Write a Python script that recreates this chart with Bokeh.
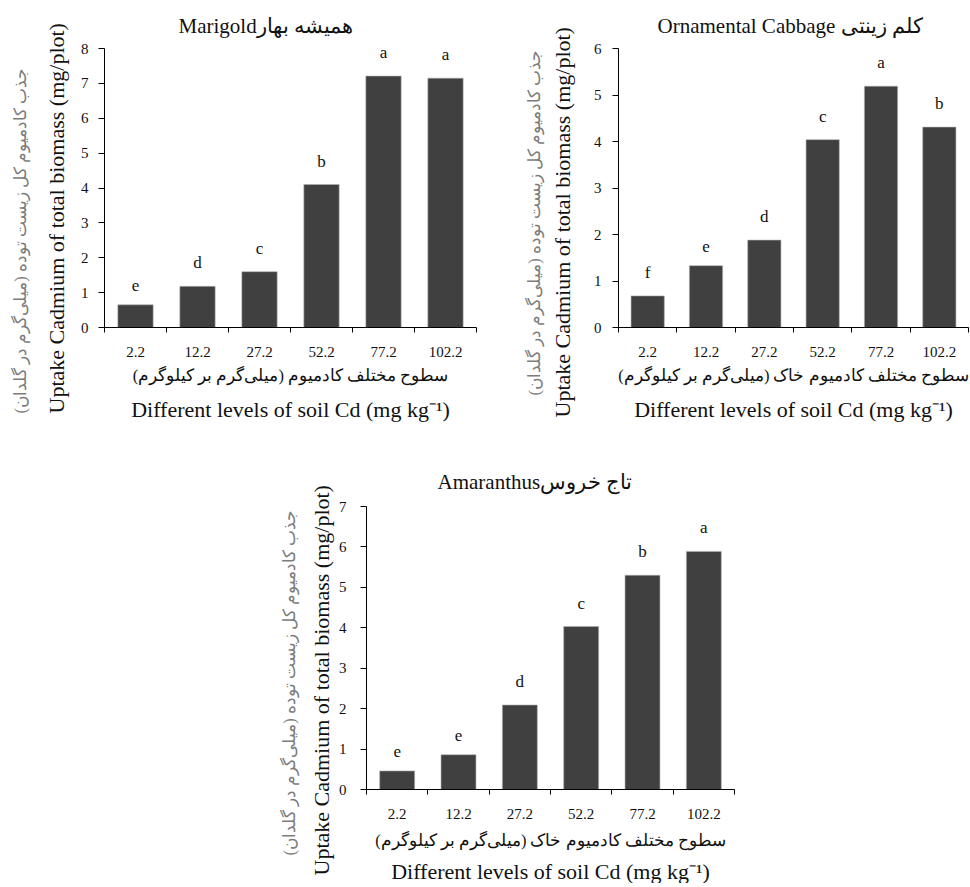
from bokeh.plotting import figure
from bokeh.models import Range1d, FixedTicker, Title, Spacer, ColumnDataSource
from bokeh.layouts import column, row
from bokeh.core.properties import value
from bokeh.embed import file_html
from bokeh.resources import INLINE

# ---------------- data ----------------
levels = ["2.2", "12.2", "27.2", "52.2", "77.2", "102.2"]

marigold_vals = [0.65, 1.18, 1.60, 4.10, 7.21, 7.15]
marigold_letters = ["e", "d", "c", "b", "a", "a"]

cabbage_vals = [0.68, 1.33, 1.88, 4.04, 5.19, 4.31]
cabbage_letters = ["f", "e", "d", "c", "a", "b"]

amaranthus_vals = [0.46, 0.86, 2.09, 4.03, 5.30, 5.89]
amaranthus_letters = ["e", "e", "d", "c", "b", "a"]

titles = ["Marigoldهمیشه بهار", "Ornamental Cabbage کلم زینتی", "Amaranthusتاج خروس"]
y_label_en = "Uptake Cadmium of total biomass (mg/plot)"
y_label_fa = "جذب کادمیوم کل زیست توده (میلی‌گرم در گلدان)"
x_label_en = "Different levels of soil Cd (mg kg⁻¹)"
x_label_fa_1 = "سطوح مختلف کادمیوم (میلی‌گرم بر کیلوگرم)"
x_label_fa_2 = "سطوح مختلف کادمیوم خاک (میلی‌گرم بر کیلوگرم)"
y_max = [8, 6, 7]

SERIF = "Liberation Serif"
BAR = "#404040"
INK = "#111111"


def ttl(text, size, color=INK, align="center", offset=0, standoff=4):
    return Title(text=text, align=align, offset=offset, standoff=standoff,
                 text_font=SERIF, text_font_size=size, text_font_style="normal",
                 text_color=color)


def make_chart(title, vals, letters, ymax, xfa, size, borders, cfg):
    width, height = size
    bl, br, bt, bb = borders
    p = figure(width=width, height=height, output_backend="svg",
               toolbar_location=None, min_border_left=bl, min_border_right=br,
               min_border_top=bt, min_border_bottom=bb,
               x_range=Range1d(0, len(levels)), y_range=Range1d(0, ymax))
    p.title = ttl(title, "21px", align="left", offset=cfg["title_off"],
                  standoff=cfg["title_so"])

    xs = [i + 0.5 for i in range(len(levels))]
    src = ColumnDataSource(dict(x=xs, top=vals, lab=letters))
    p.vbar(x="x", top="top", width=0.57, bottom=0, source=src,
           fill_color=BAR, line_color="#b0b0b0", line_width=0.6)
    p.text(x="x", y="top", text="lab", source=src, text_align="center",
           text_baseline="bottom", y_offset=-14, text_font=value(SERIF),
           text_font_size="17px", text_color=INK)

    p.xgrid.visible = False
    p.ygrid.visible = False
    p.outline_line_color = None

    xa = p.xaxis[0]
    xa.ticker = FixedTicker(ticks=xs, minor_ticks=list(range(len(levels) + 1)))
    xa.major_label_overrides = {x: l for x, l in zip(xs, levels)}
    xa.major_tick_line_color = None
    xa.minor_tick_line_color = "black"
    xa.minor_tick_in = 0
    xa.minor_tick_out = 5
    xa.axis_line_color = "black"
    xa.major_label_text_font = SERIF
    xa.major_label_text_font_size = "15px"
    xa.major_label_text_color = INK
    xa.major_label_standoff = 13

    ya = p.yaxis[0]
    ya.ticker = FixedTicker(ticks=list(range(ymax + 1)), minor_ticks=[])
    ya.major_tick_in = 0
    ya.major_tick_out = 6
    ya.major_tick_line_color = "black"
    ya.axis_line_color = "black"
    ya.major_label_text_font = SERIF
    ya.major_label_text_font_size = "15px"
    ya.major_label_text_color = INK
    ya.major_label_standoff = cfg["ytick_so"]

    # y-axis titles (English next to the axis, Persian outside, grey)
    p.add_layout(ttl(y_label_en, "22px", align="left", offset=cfg["yen_off"],
                     standoff=cfg["yen_so"]), "left")
    p.add_layout(ttl(y_label_fa, "16.5px", color="#7c7c7c", align="left",
                     offset=cfg["yfa_off"], standoff=cfg["yfa_so"]), "left")
    # x-axis titles (Persian, then English)
    p.add_layout(ttl(xfa, "16.5px", standoff=cfg["xfa_so"]), "below")
    p.add_layout(ttl(x_label_en, "22px", standoff=cfg["xen_so"]), "below")
    return p


f1 = make_chart(titles[0], marigold_vals, marigold_letters, y_max[0], x_label_fa_1,
                (480, 427), (104, 4, 48, 100),
                dict(title_off=74, title_so=22, ytick_so=10,
                     yen_off=-86, yen_so=18, yfa_off=-86, yfa_so=5,
                     xfa_so=8, xen_so=12))
f2 = make_chart(titles[1], cabbage_vals, cabbage_letters, y_max[1], x_label_fa_2,
                (490, 427), (138, 2, 48, 100),
                dict(title_off=39, title_so=22, ytick_so=11,
                     yen_off=-90, yen_so=32, yfa_off=-68, yfa_so=-24,
                     xfa_so=8, xen_so=12))
f3 = make_chart(titles[2], amaranthus_vals, amaranthus_letters, y_max[2], x_label_fa_2,
                (504, 456), (126, 10, 79, 92),
                dict(title_off=71, title_so=26, ytick_so=14,
                     yen_off=-86, yen_so=3, yfa_off=-66, yfa_so=13,
                     xfa_so=14, xen_so=0))

layout = column(row(f1, f2), row(Spacer(width=240, height=456), f3))

open("out.html", "w").write(file_html(layout, INLINE))
